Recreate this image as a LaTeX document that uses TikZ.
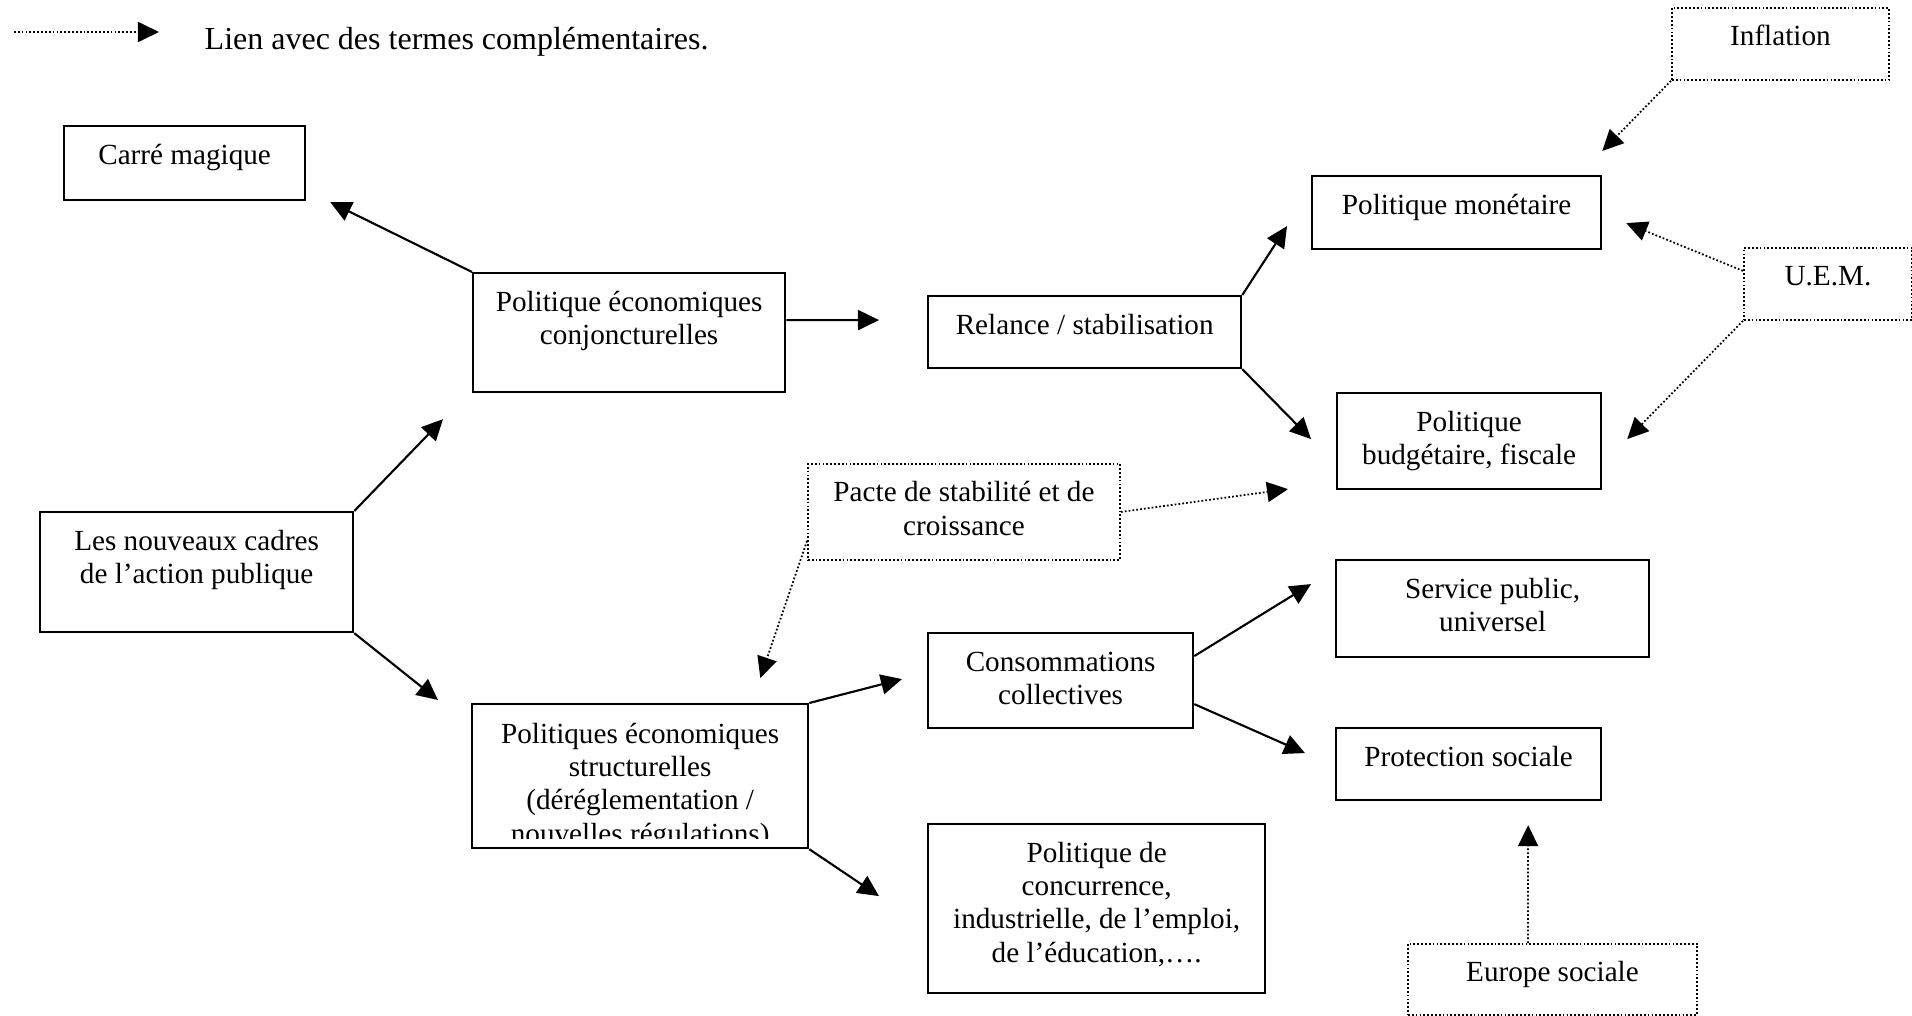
\documentclass[tikz,border=0pt]{standalone}
\usepackage{fontspec}
\setmainfont{Liberation Serif}
\usetikzlibrary{arrows.meta}

\newcommand{\boite}[3]{\parbox[c][#2][t]{#1}{\centering\rule{0pt}{0.38cm}#3}}

\begin{document}
\begin{tikzpicture}[x=0.01cm,y=-0.01cm,font=\fontsize{8.3}{9.5}\selectfont,
  cadre/.style={draw,line width=0.6pt,inner sep=0pt,anchor=north west},
  cadrepointille/.style={cadre,line width=0.5pt,dash pattern=on 0.5pt off 0.6pt},
  fleche/.style={line width=0.6pt,-{Triangle[length=0.21cm,width=0.2cm]}},
  lien/.style={fleche,line width=0.5pt,dash pattern=on 0.5pt off 0.6pt}]
\useasboundingbox (0,0) rectangle (1912,1015);

% legende
\coordinate (ldebut) at (14,32);
\coordinate (lfin) at (159,32);
\node[anchor=base west,inner sep=0pt,font=\fontsize{9.1}{10.5}\selectfont] (legende) at (204,50) {Lien avec des termes complémentaires.};

\node[cadre] (carre) at (63,125) {\boite{2.41cm}{0.74cm}{Carré magique}};
\node[cadre] (conj) at (472,272) {\boite{3.12cm}{1.19cm}{Politique économiques\\conjoncturelles}};
\node[cadre] (relance) at (927,295) {\boite{3.13cm}{0.72cm}{Relance / stabilisation}};
\node[cadre] (monet) at (1311,175) {\boite{2.89cm}{0.73cm}{Politique monétaire}};
\node[cadre] (budget) at (1336,392) {\boite{2.64cm}{0.96cm}{Politique\\budgétaire, fiscale}};
\node[cadrepointille] (pacte) at (807,463) {\boite{3.12cm}{0.96cm}{Pacte de stabilité et de\\croissance}};
\node[cadre] (cadres) at (39,511) {\boite{3.13cm}{1.20cm}{Les nouveaux cadres\\de l’action publique}};
\node[cadre] (service) at (1335,559) {\boite{3.13cm}{0.97cm}{Service public,\\universel}};
\node[cadre] (conso) at (927,632) {\boite{2.65cm}{0.95cm}{Consommations\\collectives}};
\node[cadre] (protect) at (1335,727) {\boite{2.65cm}{0.72cm}{Protection sociale}};
\node[cadre,minimum width=3.36cm,minimum height=1.44cm,
  path picture={
    \clip (path picture bounding box.north west) rectangle ([yshift=0.1cm]path picture bounding box.south east);
    \node[draw=none,inner sep=0pt,anchor=north] at (path picture bounding box.north)
      {\boite{3.36cm}{1.44cm}{Politiques économiques\\structurelles\\(déréglementation /\\nouvelles régulations)}};
  }] (struct) at (471,703) {};
\node[cadre] (concur) at (927,823) {\boite{3.37cm}{1.69cm}{Politique de\\concurrence,\\industrielle, de l’emploi,\\de l’éducation,….}};
\node[cadrepointille] (europe) at (1407,943) {\boite{2.89cm}{0.71cm}{Europe sociale}};
\node[cadrepointille] (inflation) at (1671,7) {\boite{2.17cm}{0.72cm}{Inflation}};
\node[cadrepointille] (uem) at (1743,247) {\boite{1.68cm}{0.72cm}{U.E.M.}};

\path
(ldebut) edge[lien] (lfin)
(conj.north west) edge[fleche] ([shift={(24,1)}]carre.south east)
([shift={(0,-12.5)}]conj.east) edge[fleche] ([shift={(-48,-12)}]relance.west)
(relance.north east) edge[fleche] ([shift={(-24,-24)}]monet.south west)
(relance.south east) edge[fleche] ([shift={(-25,-2)}]budget.west)
(cadres.north east) edge[fleche] ([shift={(-29,26)}]conj.south west)
(cadres.south east) edge[fleche] ([shift={(-33,-3)}]struct.north west)
(struct.north east) edge[fleche] ([shift={(-25,-1.5)}]conso.west)
(struct.south east) edge[fleche] ([shift={(-48,-12.5)}]concur.west)
([shift={(0,-24.5)}]conso.east) edge[fleche] ([shift={(-24,-24.5)}]service.west)
([shift={(0,23.5)}]conso.east) edge[fleche] ([shift={(-30,-11)}]protect.west)
(pacte.east) edge[lien] ([shift={(-48,48)}]budget.west)
([shift={(0,29)}]pacte.west) edge[lien] ([shift={(-49,-25)}]struct.north east)
(inflation.south west) edge[lien] ([shift={(0,-24)}]monet.north east)
([shift={(0,-13)}]uem.west) edge[lien] ([shift={(24,10.5)}]monet.east)
(uem.south west) edge[lien] ([shift={(25,-2)}]budget.east)
([shift={(-24.5,0)}]europe.north) edge[lien] ([shift={(59.5,24)}]protect.south);
\end{tikzpicture}
\end{document}
